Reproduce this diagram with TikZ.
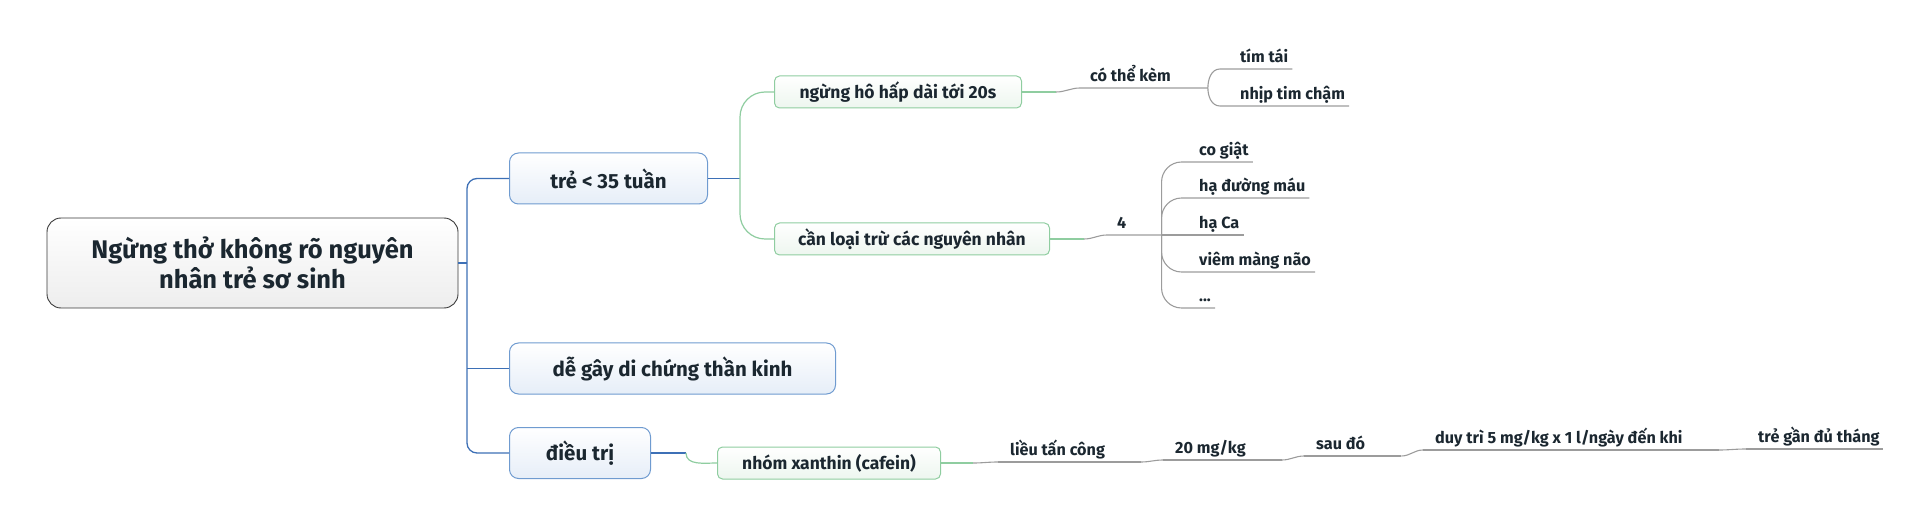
\documentclass[tikz,border=0pt]{standalone}
\usepackage{fontspec}
\setmainfont{Fira Sans}
\usetikzlibrary{positioning}
\definecolor{txt}{HTML}{1B2730}
\definecolor{cBlue}{HTML}{3D70B6}
\definecolor{cBlueEdge}{HTML}{6F9BD0}
\definecolor{cBlueFill}{HTML}{E6EEF8}
\definecolor{cGreen}{HTML}{8FCDA0}
\definecolor{cGreenFill}{HTML}{EDF6EF}
\definecolor{cGray}{HTML}{9C9C9C}
\definecolor{cRoot}{HTML}{3A3A3A}
\newcommand{\rootfont}{\fontsize{25.5}{30}\selectfont\bfseries}
\newcommand{\mainfont}{\fontsize{20.5}{24}\selectfont\bfseries}
\newcommand{\subfont}{\fontsize{17.5}{21}\selectfont\bfseries}
\newcommand{\leaffont}{\fontsize{16.2}{19}\selectfont\bfseries}

\begin{document}
\begin{tikzpicture}[x=1pt,y=-1pt,
	rootbox/.style={draw=cRoot, line width=0.9pt, rounded corners=14pt, top color=white,
		bottom color=black!7, text=txt, font=\rootfont, align=center, minimum height=90pt},
	mainbox/.style={draw=cBlueEdge, line width=1pt, rounded corners=9pt, top color=white,
		bottom color=cBlueFill, text=txt, font=\mainfont, minimum height=51pt, anchor=west},
	subbox/.style={draw=cGreen, line width=1pt, rounded corners=5pt, top color=white,
		bottom color=cGreenFill, text=txt, font=\subfont, minimum height=32pt, anchor=west},
	leaf/.style={font=\leaffont, text=txt, inner xsep=0pt, inner ysep=1pt, text depth=5pt, anchor=south west},
	bline/.style={draw=cBlue, line width=1.3pt},
	gline/.style={draw=cGreen, line width=1.2pt},
	gyline/.style={draw=cGray, line width=1.1pt}]
\useasboundingbox (0,0) rectangle (1929,526);

% root and first level
\node[rootbox, minimum width=411pt] (root) at (252.5,263) {Ngừng thở không rõ nguyên\\nhân trẻ sơ sinh};
\node[mainbox, minimum width=198pt] (tre) at (509,178.5) {trẻ < 35 tuần};
\node[mainbox, minimum width=326pt] (digay) at (509,368.5) {dễ gây di chứng thần kinh};
\node[mainbox, minimum width=141pt] (dieutri) at (509,453) {điều trị};

% second level
\node[subbox, minimum width=247pt] (ngung) at (774,92) {ngừng hô hấp dài tới 20s};
\node[subbox, minimum width=275pt] (canloai) at (774,239) {cần loại trừ các nguyên nhân};
\node[subbox, minimum width=223pt] (xanthin) at (717,463) {nhóm xanthin (cafein)};

% labels on lines
\node[leaf] (kem) at (1090,88) {có thể kèm};
\node[leaf] (timtai) at (1240,69) {tím tái};
\node[leaf] (nhiptim) at (1240,106) {nhịp tim chậm};
\node[leaf] (bon) at (1117,235) {4};
\node[leaf] (cogiat) at (1199,162) {co giật};
\node[leaf] (duongmau) at (1199,198) {hạ đường máu};
\node[leaf] (haca) at (1199,235) {hạ Ca};
\node[leaf] (viem) at (1199,272) {viêm màng não};
\node[leaf] (dots) at (1199,308) {...};
\node[leaf] (lieu) at (1010,462) {liều tấn công};
\node[leaf] (muoi) at (1175,460) {20 mg/kg};
\node[leaf] (saudo) at (1316,456) {sau đó};
\node[leaf] (duytri) at (1435,450) {duy trì 5 mg/kg x 1 l/ngày đến khi};
\node[leaf] (tregan) at (1758,449) {trẻ gần đủ tháng};

% blue trunk
\coordinate (bt) at (467,263);
\draw[bline] (root.east) -- (bt);
\draw[bline, rounded corners=10pt] (tre.west) -| (bt) |- (dieutri.west);
\draw[bline] (digay.west) -- (digay.west -| bt);

% green fork
\coordinate (gt) at (740,178.5);
\draw[bline] (tre.east) -- (gt);
\draw[gline, rounded corners=25pt] (ngung.west) -| (gt) |- (canloai.west);
\draw[bline] (dieutri.east) -- ++(35,0) coordinate (dt);
\draw[gline] (dt) to[out=-90,in=180] (xanthin.west);

% co the kem
\draw[gline] (ngung.east) -- ++(34,0) coordinate (k0);
\draw[gyline] (k0) to[out=0,in=180] ([xshift=-10pt]kem.south west) -- ([xshift=37pt]kem.south east) coordinate (k1);
\draw[gyline] (k1) to[out=90,in=180] ([xshift=-20pt]timtai.south west) -- ([xshift=4pt]timtai.south east);
\draw[gyline] (k1) to[out=-90,in=180] ([xshift=-20pt]nhiptim.south west) -- ([xshift=4pt]nhiptim.south east);

% 4 causes
\draw[gline] (canloai.east) -- ++(34,0) coordinate (b0);
\draw[gyline] (b0) to[out=0,in=180] ([xshift=-10pt]bon.south west) -- ([xshift=35pt]bon.south east) coordinate (b1);
\draw[gyline] (b1) -- ([xshift=4pt]haca.south east);
\foreach \n in {cogiat,duongmau,viem,dots}
	\draw[gyline, rounded corners=20pt] (b1) |- ([xshift=4pt]\n.south east);

% dose chain
\draw[gline] (xanthin.east) -- ++(32,0) coordinate (c0);
\draw[gyline] (c0) to[out=0,in=180] ([xshift=-12pt]lieu.south west);
\foreach \n in {lieu,muoi,saudo,duytri}
	\draw[gyline] ([xshift=-12pt]\n.south west) -- ([xshift=36pt]\n.south east);
\foreach \a/\b in {lieu/muoi,muoi/saudo,saudo/duytri,duytri/tregan}
	\draw[gyline] ([xshift=36pt]\a.south east) to[out=0,in=180] ([xshift=-12pt]\b.south west);
\draw[gyline] ([xshift=-12pt]tregan.south west) -- ([xshift=3pt]tregan.south east);
\end{tikzpicture}
\end{document}
